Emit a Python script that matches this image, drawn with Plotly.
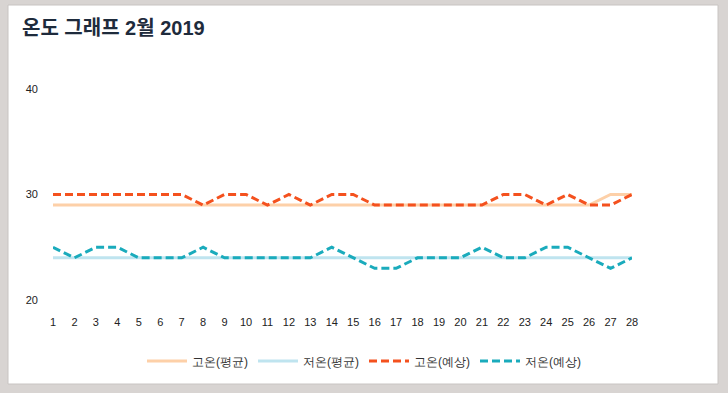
import plotly.graph_objects as go

days = list(range(1, 29))
day_labels = [str(d) for d in days]
high_avg = [29]*26 + [30, 30]
low_avg = [24]*28
high_fc = [30, 30, 30, 30, 30, 30, 30, 29, 30, 30, 29, 30, 29, 30, 30,
           29, 29, 29, 29, 29, 29, 30, 30, 29, 30, 29, 29, 30]
low_fc = [25, 24, 25, 25, 24, 24, 24, 25, 24, 24, 24, 24, 24, 25, 24,
          23, 23, 24, 24, 24, 25, 24, 24, 25, 25, 24, 23, 24]
series_names = ["고온(평균)", "저온(평균)", "고온(예상)", "저온(예상)"]

W, H = 728, 393
L, R, T, B = 53, 632, 89, 300
BG = "#d8d4d2"

fig = go.Figure()
fig.add_trace(go.Scatter(x=days, y=high_avg, name=series_names[0], mode="lines",
                         line=dict(color="#fdd0a8", width=3)))
fig.add_trace(go.Scatter(x=days, y=low_avg, name=series_names[1], mode="lines",
                         line=dict(color="#bfe4ef", width=3)))
fig.add_trace(go.Scatter(x=days, y=high_fc, name=series_names[2], mode="lines",
                         line=dict(color="#f4511e", width=3, dash="8px,4px")))
fig.add_trace(go.Scatter(x=days, y=low_fc, name=series_names[3], mode="lines",
                         line=dict(color="#1aabbc", width=3, dash="8px,4px")))

pw, ph = R - L, B - T
def px(x): return (x - L) / pw
def py(y): return (B - y) / ph

fig.update_layout(
    width=W, height=H,
    margin=dict(l=L, r=W - R, t=T, b=H - B, autoexpand=False),
    paper_bgcolor=BG,
    plot_bgcolor="white",
    font=dict(family="Liberation Sans, Arial, sans-serif", size=11, color="#333333"),
    title=dict(text="<b>온도 그래프 2월 2019</b>", x=22 / W, xanchor="left",
               y=1 - 28 / H, yanchor="middle",
               font=dict(size=20, color="#1e2b3c", family="Liberation Sans, Noto Sans CJK KR, sans-serif")),
    xaxis=dict(range=[1, 28], tickmode="array", tickvals=days, ticktext=day_labels,
               showgrid=False, zeroline=False, showline=False, ticks="",
               ticklabelstandoff=14, tickfont=dict(size=11, color="#222222")),
    yaxis=dict(range=[20, 40], tickvals=[20, 30, 40], showgrid=False, zeroline=False,
               showline=False, ticks="", ticklabelstandoff=14,
               tickfont=dict(size=11, color="#222222")),
    legend=dict(orientation="h", x=0.5 * (W) / pw - L / pw, xanchor="center",
                y=py(361), yanchor="middle", font=dict(size=12, color="#333333"),
                bgcolor="rgba(0,0,0,0)", itemwidth=40),
    shapes=[dict(type="rect", xref="paper", yref="paper", layer="below",
                 x0=px(8), x1=px(718), y0=py(384), y1=py(5),
                 fillcolor="white", line=dict(color="#c8c4c2", width=1))],
)

fig.write_html("out.html", config={"displayModeBar": False}, post_script=(
    "document.body.style.margin='0';"
    "document.body.style.padding='0';"
    "document.body.style.overflow='hidden';"
    "document.body.style.background='" + BG + "';"
))
